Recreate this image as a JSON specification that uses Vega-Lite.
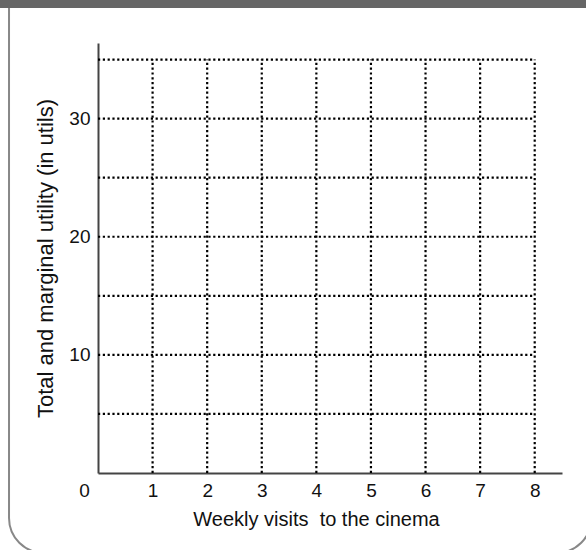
{
  "$schema": "https://vega.github.io/schema/vega-lite/v6.json",
  "width": 464,
  "height": 430,
  "autosize": {"type": "none"},
  "padding": {"left": 98, "top": 43, "right": 24, "bottom": 77},
  "background": "white",
  "config": {
    "view": {"stroke": null},
    "font": "Liberation Sans",
    "axis": {
      "ticks": false,
      "grid": false,
      "domainColor": "#444444",
      "domainWidth": 2,
      "labelFontSize": 19,
      "labelColor": "#111111",
      "labelPadding": 8,
      "titleFontWeight": "normal",
      "titleColor": "#111111"
    }
  },
  "datasets": {
    "visits": [{"visits": 1}, {"visits": 2}, {"visits": 3}, {"visits": 4}, {"visits": 5}, {"visits": 6}, {"visits": 7}, {"visits": 8}],
    "utility": [{"utils": 5}, {"utils": 10}, {"utils": 15}, {"utils": 20}, {"utils": 25}, {"utils": 30}, {"utils": 35}]
  },
  "resolve": {"axis": {"x": "independent", "y": "independent"}},
  "layer": [
    {
      "data": {"name": "utility"},
      "mark": {"type": "rule", "color": "black", "strokeWidth": 2.2, "strokeCap": "butt", "strokeDash": [2.2, 2.6]},
      "encoding": {
        "y": {
          "field": "utils", "type": "quantitative",
          "scale": {"domain": [0, 36.4], "nice": false, "zero": false},
          "axis": {
            "title": "Total and marginal utility (in utils)",
            "values": [10, 20, 30],
            "labelAngle": 0,
            "labelAlign": "right",
            "labelBaseline": "middle",
            "titleFontSize": 22,
            "titlePadding": 11
          }
        },
        "x": {"datum": 0, "type": "quantitative", "scale": {"domain": [0, 8.5], "nice": false, "zero": false}, "axis": null},
        "x2": {"datum": 8}
      }
    },
    {
      "data": {"name": "visits"},
      "mark": {"type": "rule", "color": "black", "strokeWidth": 2.2, "strokeCap": "butt", "strokeDash": [2.2, 2.6]},
      "encoding": {
        "x": {
          "field": "visits", "type": "quantitative",
          "axis": {
            "title": "Weekly visits\u00a0 to the cinema",
            "values": [0, 1, 2, 3, 4, 5, 6, 7, 8],
            "labelAngle": 0,
            "labelAlign": "center",
            "labelBaseline": "top",
            "labelOffset": {"condition": {"test": "datum.value == 0", "value": -14}, "value": 0},
            "titleFontSize": 20,
            "titlePadding": 9,
            "titleX": 218
          }
        },
        "y": {"datum": 0, "type": "quantitative", "axis": null},
        "y2": {"datum": 35}
      }
    },
    {
      "data": {"values": [{}]},
      "mark": {"type": "rect", "fill": "transparent", "stroke": "#888888", "strokeWidth": 2, "cornerRadiusBottomLeft": 35, "cornerRadiusBottomRight": 35, "cornerRadiusTopLeft": 0, "cornerRadiusTopRight": 0},
      "encoding": {
        "x": {"datum": -1.63, "type": "quantitative", "axis": null},
        "x2": {"datum": 9.04},
        "y": {"datum": 39.7, "type": "quantitative", "axis": null},
        "y2": {"datum": -6.77}
      }
    },
    {
      "data": {"values": [{}]},
      "mark": {"type": "rect", "fill": "#666666", "strokeWidth": 0},
      "encoding": {
        "x": {"datum": -1.85, "type": "quantitative", "axis": null},
        "x2": {"datum": 9.5},
        "y": {"datum": 40.6, "type": "quantitative", "axis": null},
        "y2": {"datum": 39.36}
      }
    }
  ]
}
